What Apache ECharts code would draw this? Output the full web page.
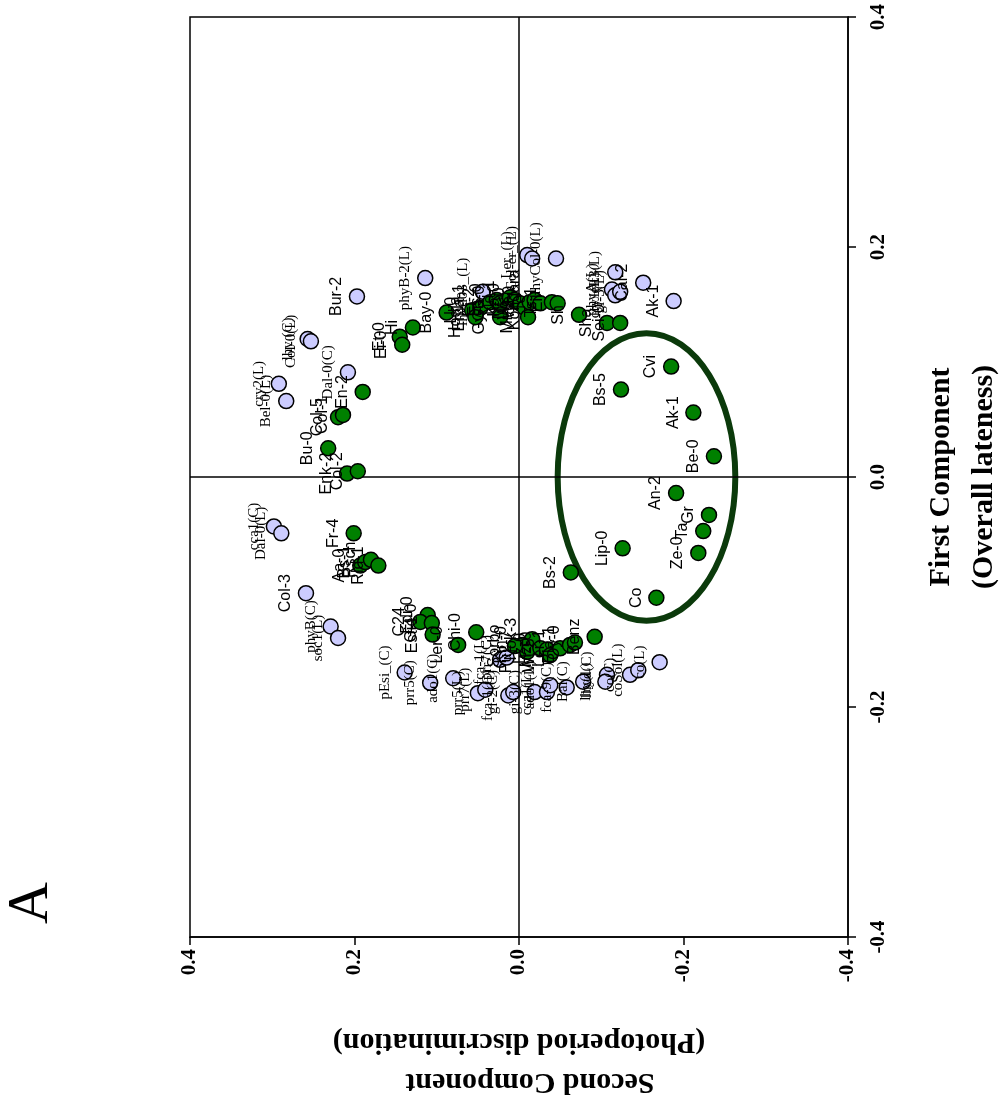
<!DOCTYPE html>
<html>
<head>
<meta charset="utf-8">
<script src="https://cdn.jsdelivr.net/npm/echarts@6/dist/echarts.min.js"></script>
<style>
html,body{margin:0;padding:0;background:#fff;}
#chart{width:1001px;height:1107px;}
</style>
</head>
<body>
<div id="chart"></div>
<script>
// Horizontal = Second Component (Photoperiod discrimination), vertical = First Component (Overall lateness)
const greenNames = ["Cvi","Bs-5","Ak-1","Be-0","An-2","Gr","Ta","Ze-0","Lip-0","Bs-2","Co",
  "Sh","Sha","Sei-0","Bay-0","Hi","Et-0","Ei-0","Ll-0","Ema-1","Ei-2","Es-0","Ga-0","Nd-1","Ka-0","Mt-0","Ws","Wl-0","Kondara","Te","Ts-1","Eil","Mr-0","Gy-0","Hodja",
  "En-2","Col-5","Col-1","Bu-0","Enk-2","Col-2","Fr-4","Aa-0","Bs-1","Rsch","Rld-1",
  "Edi-0","C24","Gie-0","Est-1","Ler-0","Chi-0","Nok-3","Kin-0","Pu2-7","Lz-0","Mz-0","Wt-5","Ler-1","Bla-1","Oy-0","Benz","Sorbo"];
const greenSecond = [-0.185,-0.124,-0.212,-0.237,-0.191,-0.231,-0.224,-0.218,-0.126,-0.063,-0.167,
  -0.073,-0.107,-0.123,0.088,0.129,0.145,0.142,0.057,0.047,0.035,0.027,0.023,0.011,0.005,-0.001,-0.007,-0.013,-0.019,-0.026,-0.040,-0.047,-0.011,0.023,0.053,
  0.190,0.220,0.214,0.232,0.209,0.196,0.201,0.193,0.187,0.180,0.171,
  0.111,0.120,0.106,0.105,0.074,0.052,-0.016,-0.004,-0.010,-0.026,-0.034,-0.038,-0.050,-0.062,-0.068,-0.092,0.005];
const greenFirst = [0.096,0.076,0.056,0.018,-0.014,-0.033,-0.047,-0.066,-0.062,-0.083,-0.105,
  0.141,0.134,0.134,0.143,0.130,0.122,0.115,0.145,0.147,0.152,0.154,0.151,0.156,0.154,0.151,0.147,0.152,0.154,0.151,0.152,0.151,0.139,0.139,0.139,
  0.074,0.052,0.054,0.025,0.003,0.005,-0.049,-0.077,-0.074,-0.072,-0.077,
  -0.120,-0.126,-0.127,-0.137,-0.146,-0.135,-0.141,-0.146,-0.152,-0.149,-0.150,-0.155,-0.149,-0.146,-0.144,-0.139,-0.147];

const lavNames = ["Bur-2","lhy (C)","Col-0(L)","cry2(L)","Bel-0(L)","Dal-0(C)","phyB-2(L)","lhyd03_(L)","Ler_(L)","Col-er_(L)","lhyCol-0(L)",
  "elf3(L)","phyA(L)","cry1(L)","gi-3(L)","Cal-2","Ak-1",
  "cca1(C)","Dal-0(L)","Col-3","phyB(C)","soc1(L)","pEsi_(C)","prr5(C)","ado1(C)",
  "fca-1(L)","prr7(C)","prr5(L)","prr7(L)","fca-1(C)","gi-2(C)","gi-3(C)","cca1(L)","ado1(L)","fca-9(C)","Bal(C)","lhyd(C)","lhy(L)","co(C)","coSol(L)","co(L)"];
const lavSecond = [0.197,0.257,0.253,0.292,0.283,0.208,0.114,0.044,-0.010,-0.016,-0.045,
  -0.117,-0.113,-0.117,-0.123,-0.151,-0.188,
  0.298,0.289,0.259,0.229,0.220,0.139,0.108,0.080,
  0.023,0.015,0.050,0.041,0.013,0.007,-0.019,-0.034,-0.038,-0.058,-0.078,-0.107,-0.105,-0.135,-0.145,-0.171];
const lavFirst = [0.157,0.120,0.118,0.081,0.066,0.091,0.173,0.161,0.193,0.190,0.190,
  0.178,0.163,0.158,0.161,0.169,0.153,
  -0.043,-0.049,-0.101,-0.130,-0.140,-0.170,-0.179,-0.175,
  -0.159,-0.157,-0.188,-0.185,-0.190,-0.187,-0.187,-0.187,-0.181,-0.183,-0.178,-0.172,-0.178,-0.172,-0.168,-0.161];

// ellipse: [center second, center first, radius second, radius first]
const ellipseData = [[-0.155, 0.0, 0.108, 0.125]];
const tickLabels = ["-0.4","-0.2","0.0","0.2","0.4"];

const SANS = "Liberation Sans, Arial, sans-serif";
const SERIF = "Liberation Serif, Times New Roman, serif";

function build(names, xs, ys){
  return names.map((n,i)=>({
    name:n, value:[xs[i], ys[i]],
    label:{fontFamily: /[(_]/.test(n) ? SERIF : SANS, fontSize: /[(_]/.test(n) ? 15 : 16}
  }));
}

const chart = echarts.init(document.getElementById('chart'), null, {renderer:'canvas'});
const pointLabel = {
  show:true, formatter:p=>p.name, position:'left', distance:4, rotate:90,
  align:'center', verticalAlign:'bottom', color:'#000'
};
chart.setOption({
  animation:false,
  backgroundColor:'#fff',
  grid:{left:190, right:153, top:17, bottom:170, show:true, borderColor:'#000', borderWidth:1.5, backgroundColor:'transparent'},
  xAxis:{type:'value', min:-0.4, max:0.4, interval:0.2, inverse:true, position:'bottom',
    axisLine:{show:true, onZero:false, lineStyle:{color:'#000', width:1.5}},
    axisTick:{show:true, inside:false, length:8, lineStyle:{color:'#000', width:1.5}},
    splitLine:{show:false},
    axisLabel:{rotate:90, margin:12, fontFamily:SERIF, fontWeight:'bold', fontSize:21, color:'#000',
      formatter:v=>tickLabels[Math.round((v+0.4)/0.2)]}},
  yAxis:{type:'value', min:-0.4, max:0.4, interval:0.2, position:'right',
    axisLine:{show:true, onZero:false, lineStyle:{color:'#000', width:1.5}},
    axisTick:{show:true, inside:false, length:8, lineStyle:{color:'#000', width:1.5}},
    splitLine:{show:false},
    axisLabel:{rotate:90, margin:20, fontFamily:SERIF, fontWeight:'bold', fontSize:21, color:'#000',
      formatter:v=>tickLabels[Math.round((v+0.4)/0.2)]}},
  graphic:[
    {type:'text', x:32, y:903, rotation:Math.PI/2, style:{text:'A', fontFamily:SERIF, fontSize:58, fill:'#000', align:'center', verticalAlign:'middle'}},
    {type:'text', x:941, y:477, rotation:Math.PI/2, style:{text:'First Component', fontFamily:SERIF, fontWeight:'bold', fontSize:30, fill:'#000', align:'center', verticalAlign:'middle'}},
    {type:'text', x:984, y:477, rotation:Math.PI/2, style:{text:'(Overall lateness)', fontFamily:SERIF, fontWeight:'bold', fontSize:30, fill:'#000', align:'center', verticalAlign:'middle'}},
    {type:'text', x:519, y:1042, rotation:Math.PI, style:{text:'(Photoperiod discrimination)', fontFamily:SERIF, fontWeight:'bold', fontSize:30, fill:'#000', align:'center', verticalAlign:'middle'}},
    {type:'text', x:530, y:1082, rotation:Math.PI, style:{text:'Second Component', fontFamily:SERIF, fontWeight:'bold', fontSize:30, fill:'#000', align:'center', verticalAlign:'middle'}}
  ],
  series:[
    {type:'scatter', name:'zero', data:[], markLine:{silent:true, symbol:['none','none'], label:{show:false},
      lineStyle:{color:'#000', width:1.5, type:'solid'}, data:[{xAxis:0},{yAxis:0}]}},
    {type:'custom', name:'ellipse', data:ellipseData, z:3,
      renderItem:(params, api)=>{
        const c = api.coord([api.value(0), api.value(1)]);
        const s = api.size([api.value(2), api.value(3)]);
        return {type:'ellipse', shape:{cx:c[0], cy:c[1], rx:Math.abs(s[0]), ry:Math.abs(s[1])},
          style:{fill:null, stroke:'#0b3a0b', lineWidth:6}};
      }},
    {type:'scatter', name:'lavender', z:4, symbol:'circle', symbolSize:15,
      itemStyle:{color:'#ccccff', borderColor:'#000', borderWidth:1.5, opacity:1},
      label:pointLabel, data:build(lavNames, lavSecond, lavFirst)},
    {type:'scatter', name:'green', z:5, symbol:'circle', symbolSize:15,
      itemStyle:{color:'#008000', borderColor:'#000', borderWidth:1.5, opacity:1},
      label:pointLabel, data:build(greenNames, greenSecond, greenFirst)}
  ]
});
</script>
</body>
</html>
